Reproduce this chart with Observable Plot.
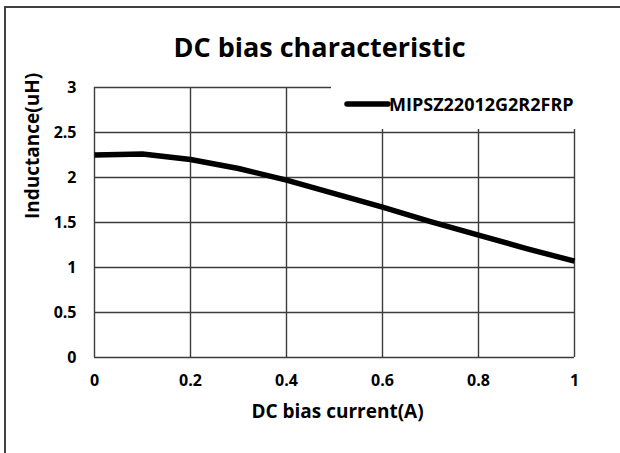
<!DOCTYPE html>
<html>
<head>
<meta charset="utf-8">
<script src="https://cdn.jsdelivr.net/npm/d3@7"></script>
<script src="https://cdn.jsdelivr.net/npm/@observablehq/plot@0.6"></script>
<style>
  html, body { margin: 0; padding: 0; background: #fff; overflow: hidden; width: 620px; height: 453px; }
  #wrap { position: relative; width: 620px; height: 453px; }
  #border { position: absolute; left: 4px; top: 6px; width: 700px; height: 700px; border: 2px solid #404040; box-sizing: border-box; }
  #chart { position: absolute; left: 0; top: 0; }
  #legend { position: absolute; left: 331px; top: 78px; width: 270px; height: 51px; background: #fff; }
</style>
</head>
<body>
<div id="wrap">
  <div id="border"></div>
  <div id="chart"></div>
  <div id="legend"></div>
</div>
<script>
const chartTitle = "DC bias characteristic";
const xTitle = "DC bias current(A)";
const yTitle = "Inductance(uH)";
const seriesName = "MIPSZ22012G2R2FRP";

const current = [0, 0.1, 0.2, 0.3, 0.4, 0.5, 0.6, 0.7, 0.8, 0.9, 1.0];
const inductance = [2.25, 2.26, 2.2, 2.1, 1.97, 1.82, 1.67, 1.51, 1.36, 1.21, 1.07];

const xTicks = [0, 0.2, 0.4, 0.6, 0.8, 1];
const xTickLabels = ["0", "0.2", "0.4", "0.6", "0.8", "1"];
const yTicks = [0, 0.5, 1, 1.5, 2, 2.5, 3];
const yTickLabels = ["0", "0.5", "1", "1.5", "2", "2.5", "3"];

const data = current.map((x, i) => ({x, y: inductance[i]}));
const font = "'Open Sans', 'Noto Sans', sans-serif";
const gridColor = "#3c3c3c";

const plot = Plot.plot({
  width: 620,
  height: 453,
  marginLeft: 94,
  marginRight: 46,
  marginTop: 87,
  marginBottom: 96,
  style: {fontFamily: font, fontWeight: "bold", color: "#000", background: "transparent", overflow: "visible"},
  x: {domain: [0, 1]},
  y: {domain: [0, 3]},
  marks: [
    Plot.gridX(xTicks, {stroke: gridColor, strokeOpacity: 1, strokeWidth: 1.4}),
    Plot.gridY(yTicks, {stroke: gridColor, strokeOpacity: 1, strokeWidth: 1.4}),
    Plot.axisX({ticks: xTicks, tickSize: 0, tickPadding: 17, fontSize: 16, fontWeight: "bold",
      tickFormat: (d) => xTickLabels[xTicks.indexOf(d)], label: null}),
    Plot.axisY({ticks: yTicks, tickSize: 0, tickPadding: 18, fontSize: 16, fontWeight: "bold",
      tickFormat: (d) => yTickLabels[yTicks.indexOf(d)], label: null}),
    Plot.lineY(data, {x: "x", y: "y", stroke: "#000", strokeWidth: 5.5, strokeLinejoin: "round", strokeLinecap: "butt"}),
    Plot.text([chartTitle], {frameAnchor: "top", lineAnchor: "bottom", dx: -15, dy: -31, fontSize: 27, fontWeight: "bold", fill: "#000"}),
    Plot.text([xTitle], {frameAnchor: "bottom", lineAnchor: "bottom", dx: 3, dy: 60, fontSize: 19, fontWeight: "bold", fill: "#000"}),
    Plot.text([yTitle], {frameAnchor: "left", lineAnchor: "bottom", rotate: -90, dx: -56, dy: -3.5, fontSize: 19, fontWeight: "bold", fill: "#000"})
  ]
});
document.getElementById("chart").appendChild(plot);

// Legend
const lg = d3.select("#legend").append("svg").attr("width", 270).attr("height", 51);
lg.append("line").attr("x1", 16).attr("x2", 57).attr("y1", 26).attr("y2", 26)
  .attr("stroke", "#000").attr("stroke-width", 5.5).attr("stroke-linecap", "round");
lg.append("text").attr("x", 58).attr("y", 33).text(seriesName)
  .attr("font-family", font).attr("font-weight", "bold").attr("font-size", 18).attr("fill", "#000");
</script>
</body>
</html>
